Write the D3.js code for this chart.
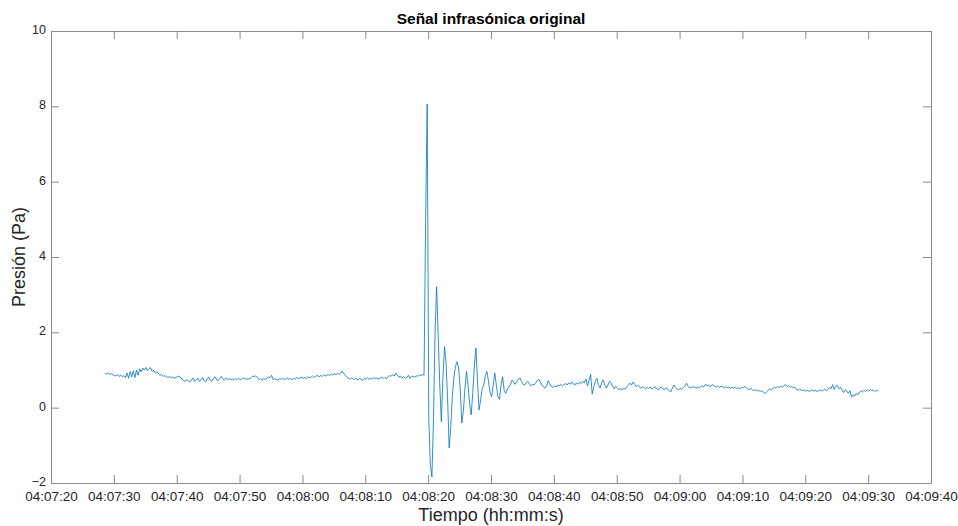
<!DOCTYPE html>
<html>
<head>
<meta charset="utf-8">
<script src="https://cdn.jsdelivr.net/npm/d3@7/dist/d3.min.js"></script>
<style>
  html, body { margin: 0; padding: 0; background: #ffffff; }
  svg { display: block; font-family: "Liberation Sans", Arial, Helvetica, sans-serif; }
</style>
</head>
<body>
<svg id="chart" width="958" height="526"></svg>
<script>
// Recording metadata: first sample time and sampling interval (s)
const recordStart = "04:07:28.6";
const sampleStep = 0.25;

// Pressure samples (Pa)
const pressure = [
  0.91, 0.89, 0.92, 0.88, 0.90, 0.87, 0.86, 0.84, 0.88, 0.83, 0.86, 0.82, 0.85, 0.80, 0.92, 0.78, 0.96, 0.82, 0.98, 0.80,
  1.00, 0.86, 1.03, 0.95, 1.05, 1.00, 1.07, 0.98, 1.04, 1.06, 0.96, 0.99, 0.92, 0.95, 0.90, 0.86, 0.88, 0.83, 0.85, 0.82,
  0.80, 0.83, 0.79, 0.81, 0.78, 0.80, 0.82, 0.84, 0.80, 0.76, 0.72, 0.70, 0.75, 0.71, 0.68, 0.74, 0.79, 0.70, 0.73, 0.78,
  0.70, 0.74, 0.80, 0.72, 0.69, 0.76, 0.81, 0.73, 0.70, 0.77, 0.82, 0.74, 0.72, 0.78, 0.83, 0.76, 0.73, 0.79, 0.75, 0.77,
  0.74, 0.76, 0.73, 0.77, 0.75, 0.78, 0.74, 0.76, 0.79, 0.77, 0.75, 0.78, 0.76, 0.80, 0.84, 0.82, 0.85, 0.80, 0.74, 0.78,
  0.73, 0.77, 0.75, 0.78, 0.82, 0.79, 0.86, 0.74, 0.77, 0.75, 0.73, 0.77, 0.75, 0.78, 0.74, 0.76, 0.79, 0.75, 0.77, 0.74,
  0.78, 0.76, 0.80, 0.77, 0.79, 0.81, 0.78, 0.80, 0.77, 0.82, 0.79, 0.81, 0.84, 0.80, 0.83, 0.86, 0.82, 0.85, 0.83, 0.87,
  0.84, 0.86, 0.88, 0.85, 0.89, 0.87, 0.90, 0.88, 0.91, 0.89, 0.93, 0.97, 0.90, 0.86, 0.80, 0.78, 0.76, 0.79, 0.75, 0.77,
  0.76, 0.74, 0.78, 0.75, 0.73, 0.77, 0.76, 0.79, 0.75, 0.78, 0.76, 0.80, 0.77, 0.79, 0.76, 0.78, 0.81, 0.78, 0.80, 0.77,
  0.82, 0.85, 0.83, 0.88, 0.84, 0.92, 0.86, 0.81, 0.84, 0.79, 0.82, 0.78, 0.80, 0.86, 0.78, 0.82, 0.84, 0.80, 0.85, 0.83,
  0.87, 0.85, 0.88, 0.86, 5.00, 8.06, -0.30, -1.50, -1.84, -0.30, 2.00, 3.21, 1.90, 0.60, -0.37, 0.80, 1.62, 1.20, 0.20, -1.07,
  -0.50, 0.30, 0.80, 1.10, 1.22, 1.05, 0.50, -0.41, -0.10, 0.50, 0.96, 0.60, 0.10, -0.19, 0.40, 1.10, 1.58, 0.70, -0.06, 0.20,
  0.50, 0.60, 0.85, 0.96, 0.70, 0.40, 0.29, 0.60, 0.92, 0.60, 0.30, 0.22, 0.60, 0.82, 0.45, 0.38, 0.50, 0.55, 0.62, 0.73,
  0.68, 0.62, 0.70, 0.76, 0.79, 0.70, 0.62, 0.60, 0.66, 0.70, 0.64, 0.58, 0.62, 0.60, 0.66, 0.72, 0.75, 0.68, 0.60, 0.55,
  0.52, 0.58, 0.72, 0.64, 0.56, 0.54, 0.58, 0.55, 0.60, 0.57, 0.62, 0.58, 0.61, 0.64, 0.60, 0.66, 0.62, 0.68, 0.63, 0.60,
  0.66, 0.62, 0.68, 0.64, 0.70, 0.66, 0.76, 0.58, 0.72, 0.89, 0.36, 0.55, 0.70, 0.78, 0.60, 0.52, 0.66, 0.74, 0.60, 0.52,
  0.60, 0.70, 0.66, 0.56, 0.50, 0.56, 0.52, 0.48, 0.50, 0.47, 0.52, 0.49, 0.55, 0.60, 0.65, 0.60, 0.68, 0.62, 0.56, 0.60,
  0.55, 0.52, 0.56, 0.53, 0.50, 0.54, 0.51, 0.55, 0.49, 0.53, 0.56, 0.50, 0.47, 0.52, 0.55, 0.50, 0.48, 0.53, 0.49, 0.45,
  0.42, 0.52, 0.60, 0.54, 0.50, 0.47, 0.52, 0.49, 0.54, 0.58, 0.65, 0.57, 0.52, 0.55, 0.53, 0.56, 0.51, 0.55, 0.52, 0.56,
  0.58, 0.55, 0.62, 0.58, 0.60, 0.56, 0.59, 0.61, 0.57, 0.55, 0.58, 0.54, 0.57, 0.55, 0.52, 0.56, 0.53, 0.55, 0.51, 0.54,
  0.52, 0.55, 0.51, 0.53, 0.50, 0.54, 0.52, 0.56, 0.53, 0.50, 0.48, 0.51, 0.47, 0.45, 0.48, 0.44, 0.46, 0.43, 0.45, 0.40,
  0.37, 0.42, 0.46, 0.50, 0.47, 0.52, 0.55, 0.51, 0.56, 0.53, 0.57, 0.54, 0.59, 0.61, 0.56, 0.58, 0.54, 0.57, 0.52, 0.55,
  0.48, 0.46, 0.49, 0.47, 0.45, 0.47, 0.44, 0.46, 0.43, 0.45, 0.47, 0.44, 0.46, 0.43, 0.45, 0.47, 0.44, 0.46, 0.49, 0.45,
  0.48, 0.54, 0.50, 0.61, 0.48, 0.57, 0.59, 0.50, 0.54, 0.46, 0.40, 0.48, 0.44, 0.38, 0.45, 0.28, 0.34, 0.31, 0.37, 0.34,
  0.41, 0.45, 0.42, 0.46, 0.43, 0.47, 0.44, 0.48, 0.45, 0.47, 0.43, 0.46, 0.44
];

// Axis limits and tick values
const timeLimits = ["04:07:20", "04:09:40"];
const timeTicks = ["04:07:20", "04:07:30", "04:07:40", "04:07:50", "04:08:00", "04:08:10", "04:08:20",
                   "04:08:30", "04:08:40", "04:08:50", "04:09:00", "04:09:10", "04:09:20", "04:09:30", "04:09:40"];
const pressureLimits = [-2, 10];
const pressureTicks = [-2, 0, 2, 4, 6, 8, 10];

const titleText = "Señal infrasónica original";
const xLabelText = "Tiempo (hh:mm:s)";
const yLabelText = "Presión (Pa)";

const toDate = s => new Date("2000-01-01T" + s + "Z");

const width = 958, height = 526;
const margin = { top: 31, right: 27, bottom: 43, left: 51 };
const innerW = width - margin.left - margin.right;
const innerH = height - margin.top - margin.bottom;

const t0 = toDate(recordStart).getTime();
const samples = pressure.map((v, i) => ({ t: new Date(t0 + i * sampleStep * 1000), v }));

const x = d3.scaleUtc().domain(timeLimits.map(toDate)).range([0, innerW]);
const y = d3.scaleLinear().domain(pressureLimits).range([innerH, 0]);

const svg = d3.select("#chart");
const g = svg.append("g").attr("transform", `translate(${margin.left},${margin.top})`);

const axisColor = "#8a8a8a";
const textColor = "#262626";
const tickLen = 8;
const fmt = d3.utcFormat("%H:%M:%S");

// Signal trace
g.append("path")
  .datum(samples)
  .attr("fill", "none")
  .attr("stroke", "#0072BD")
  .attr("stroke-width", 0.8)
  .attr("stroke-linejoin", "round")
  .attr("d", d3.line().x(d => x(d.t)).y(d => y(d.v)));

// Bottom axis with inward ticks
const xBottom = g.append("g").attr("transform", `translate(0,${innerH})`)
  .call(d3.axisBottom(x).tickValues(timeTicks.map(toDate)).tickFormat(fmt).tickSizeInner(-tickLen).tickSizeOuter(0).tickPadding(8));
// Top axis, ticks only
const xTop = g.append("g")
  .call(d3.axisTop(x).tickValues(timeTicks.map(toDate)).tickFormat("").tickSizeInner(-tickLen).tickSizeOuter(0));
// Left axis with inward ticks
const yLeft = g.append("g")
  .call(d3.axisLeft(y).tickValues(pressureTicks).tickSizeInner(-tickLen).tickSizeOuter(0).tickPadding(5));
// Right axis, ticks only
const yRight = g.append("g").attr("transform", `translate(${innerW},0)`)
  .call(d3.axisRight(y).tickValues(pressureTicks).tickFormat("").tickSizeInner(-tickLen).tickSizeOuter(0));

[xBottom, xTop, yLeft, yRight].forEach(a => {
  a.selectAll(".domain").attr("stroke", axisColor).attr("stroke-width", 1);
  a.selectAll(".tick line").attr("stroke", axisColor).attr("stroke-width", 1);
  a.selectAll(".tick text").attr("fill", textColor)
    .style("font-family", "'Liberation Sans', Arial, sans-serif");
});
xBottom.selectAll(".tick text").style("font-size", "13.5px");
yLeft.selectAll(".tick text").style("font-size", "12.5px").attr("dy", "0.2em");

// Title and axis labels
svg.append("text")
  .attr("x", margin.left + innerW / 2).attr("y", 24)
  .attr("text-anchor", "middle")
  .attr("fill", "#000").style("font-size", "15.5px").style("font-weight", "bold")
  .text(titleText);

svg.append("text")
  .attr("x", margin.left + innerW / 2).attr("y", 521)
  .attr("text-anchor", "middle")
  .attr("fill", textColor).style("font-size", "18px")
  .text(xLabelText);

svg.append("text")
  .attr("transform", `translate(25,${margin.top + innerH / 2}) rotate(-90)`)
  .attr("text-anchor", "middle")
  .attr("fill", textColor).style("font-size", "18px")
  .text(yLabelText);
</script>
</body>
</html>
